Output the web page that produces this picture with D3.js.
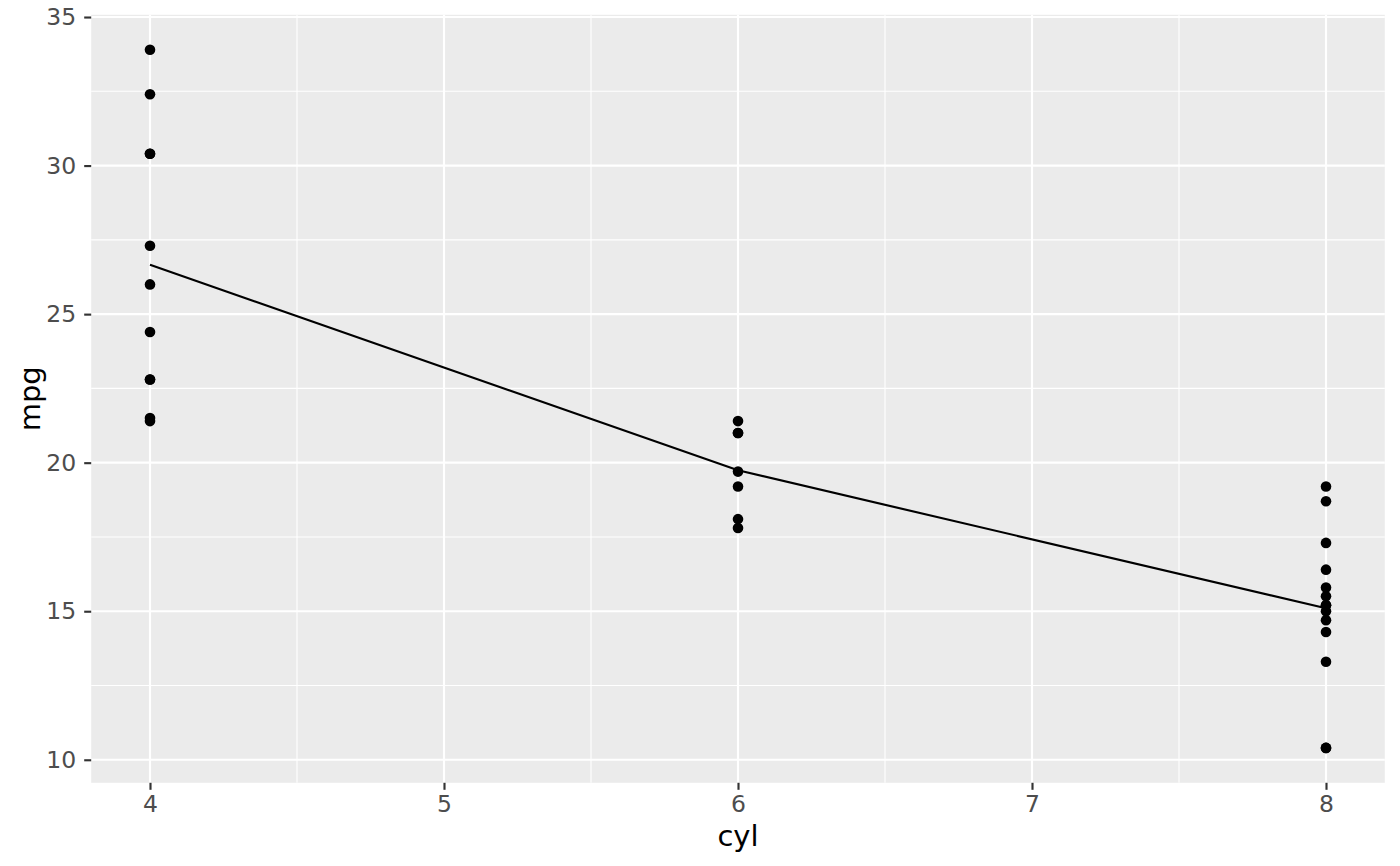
<!DOCTYPE html>
<html><head><meta charset="utf-8">
<script src="https://cdn.jsdelivr.net/npm/d3@7"></script>
<style>body{margin:0;background:#fff}svg{display:block}</style>
</head><body>
<svg id="c" width="1400" height="866"></svg>
<script>
const cyl4 = [22.8, 24.4, 22.8, 32.4, 30.4, 33.9, 21.5, 27.3, 26.0, 30.4, 21.4];
const cyl6 = [21.0, 21.0, 21.4, 18.1, 19.2, 17.8, 19.7];
const cyl8 = [18.7, 14.3, 16.4, 17.3, 15.2, 10.4, 10.4, 14.7, 15.5, 15.2, 13.3, 19.2, 15.8, 15.0];
const groups = [4, 6, 8];
const xTicks = [4, 5, 6, 7, 8];
const yTicks = [10, 15, 20, 25, 30, 35];

const groupVals = [cyl4, cyl6, cyl8];
const points = [];
groups.forEach((g, i) => groupVals[i].forEach(v => points.push({x: g, y: v})));
const means = groups.map((g, i) => ({x: g, y: d3.mean(groupVals[i])}));

const svg = d3.select("#c");
const L = 91.2, R = 1384.8, T = 14.8, B = 782.8;
const x = d3.scaleLinear().domain([3.8, 8.2]).range([L, R]);
const y = d3.scaleLinear().domain([9.225, 35.075]).range([B, T]);

svg.append("rect").attr("x", L).attr("y", T).attr("width", R - L).attr("height", B - T).attr("fill", "#EBEBEB");

const minorX = [4.5, 5.5, 6.5, 7.5];
const minorY = [12.5, 17.5, 22.5, 27.5, 32.5];
const g = svg.append("g");
minorX.forEach(v => g.append("line").attr("x1", x(v)).attr("x2", x(v)).attr("y1", T).attr("y2", B).attr("stroke", "#fff").attr("stroke-width", 1.07));
minorY.forEach(v => g.append("line").attr("x1", L).attr("x2", R).attr("y1", y(v)).attr("y2", y(v)).attr("stroke", "#fff").attr("stroke-width", 1.07));
xTicks.forEach(v => g.append("line").attr("x1", x(v)).attr("x2", x(v)).attr("y1", T).attr("y2", B).attr("stroke", "#fff").attr("stroke-width", 2.13));
yTicks.forEach(v => g.append("line").attr("x1", L).attr("x2", R).attr("y1", y(v)).attr("y2", y(v)).attr("stroke", "#fff").attr("stroke-width", 2.13));

// axes
const xAxis = d3.axisBottom(x).tickValues(xTicks).tickSize(7).tickPadding(6).tickFormat(d3.format("d"));
const yAxis = d3.axisLeft(y).tickValues(yTicks).tickSize(7).tickPadding(8).tickFormat(d3.format("d"));
const gx = svg.append("g").attr("transform", `translate(0,${B})`).call(xAxis);
const gy = svg.append("g").attr("transform", `translate(${L},0)`).call(yAxis);
[gx, gy].forEach(a => {
  a.attr("font-size", null).attr("font-family", null);
  a.select(".domain").remove();
  a.selectAll(".tick line").attr("stroke", "#333333").attr("stroke-width", 2.13);
  a.selectAll(".tick text").attr("fill", "#4D4D4D").style("font-family", "DejaVu Sans").style("font-size", "23.5px");
});

// line
svg.append("path").datum(means)
  .attr("d", d3.line().x(d => x(d.x)).y(d => y(d.y)))
  .attr("fill", "none").attr("stroke", "#000").attr("stroke-width", 2.13);

// points
svg.append("g").selectAll("circle").data(points).join("circle")
  .attr("cx", d => x(d.x)).attr("cy", d => y(d.y)).attr("r", 5.3).attr("fill", "#000");

// titles
svg.append("text").attr("x", (L + R) / 2).attr("y", 846).attr("text-anchor", "middle")
  .style("font-family", "DejaVu Sans").style("font-size", "29px").attr("fill", "#000").text("cyl");
svg.append("text").attr("transform", `translate(40,${(T + B) / 2}) rotate(-90)`).attr("text-anchor", "middle")
  .style("font-family", "DejaVu Sans").style("font-size", "29px").attr("fill", "#000").text("mpg");
</script>
</body></html>
